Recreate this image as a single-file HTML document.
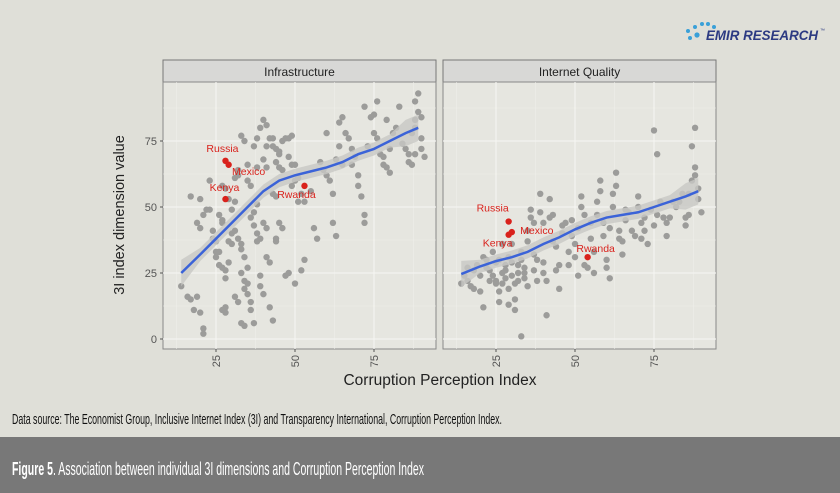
<!DOCTYPE html>
<html><head><meta charset="utf-8"><style>
body{margin:0;background:#dfdfd8;}
svg{display:block;font-family:"Liberation Sans",sans-serif;}
</style></head><body>
<svg id="chart" width="840" height="493" viewBox="0 0 840 493" xmlns="http://www.w3.org/2000/svg">
<rect x="0" y="0" width="840" height="493" fill="#dfdfd8"/>
<g>
<circle cx="690" cy="38" r="2" fill="#3aa0d8"/><circle cx="688" cy="31" r="2" fill="#3aa0d8"/><circle cx="697" cy="35" r="2.6" fill="#3aa0d8"/><circle cx="695" cy="27" r="2" fill="#3aa0d8"/><circle cx="702" cy="24" r="2" fill="#3aa0d8"/><circle cx="708" cy="24" r="2" fill="#3aa0d8"/><circle cx="714" cy="27" r="2" fill="#3aa0d8"/>
<text x="706" y="40" font-size="14" font-weight="bold" font-style="italic" fill="#2c3a82" textLength="112" lengthAdjust="spacingAndGlyphs">EMIR RESEARCH</text>
<text x="820" y="32" font-size="5" fill="#2c3a82">™</text>
</g>
<g id="panels"></g>
<text transform="translate(124,215) rotate(-90)" text-anchor="middle" font-size="14.5" fill="#222">3I index dimension value</text>
<text x="440" y="385" text-anchor="middle" font-size="15.5" fill="#222">Corruption Perception Index</text>
<text x="12" y="424" font-size="15" fill="#111" textLength="490" lengthAdjust="spacingAndGlyphs">Data source: The Economist Group, Inclusive Internet Index (3I) and Transparency International, Corruption Perception Index.</text>
<rect x="0" y="437" width="840" height="56" fill="#787878"/>
<text x="12" y="475" font-size="18" fill="#fff" textLength="412" lengthAdjust="spacingAndGlyphs"><tspan font-weight="bold">Figure 5</tspan>. Association between individual 3I dimensions and Corruption Perception Index</text>
</svg>
<script>
const panelTitles = ["Infrastructure","Internet Quality"];
const xTicks = [25,50,75];
const yTicks = [0,25,50,75];
const infraPoints = [[14,20],[16,16],[17,15],[18,11],[19,16],[20,10],[21,4],[21,2],[17,54],[20,53],[19,44],[20,42],[21,47],[22,49],[23,60],[23,49],[24,38],[24,41],[25,37],[25,33],[26,33],[26,28],[25,31],[26,47],[27,45],[27,44],[27,58],[28,57],[27,27],[28,26],[28,23],[29,29],[28,12],[27,11],[28,10],[29,37],[30,40],[30,36],[29,53],[30,49],[31,52],[31,61],[32,62],[32,64],[31,41],[32,38],[33,36],[33,34],[33,25],[34,22],[34,19],[35,17],[35,21],[35,27],[34,31],[32,14],[31,16],[33,6],[34,5],[36,14],[36,11],[37,6],[36,46],[37,43],[37,48],[38,51],[38,40],[38,37],[39,38],[39,24],[39,20],[40,17],[40,44],[41,42],[41,31],[42,29],[42,12],[43,7],[43,55],[44,54],[43,73],[44,72],[45,71],[45,65],[46,64],[44,67],[41,73],[42,76],[43,76],[45,70],[46,75],[47,76],[48,76],[49,77],[48,69],[49,66],[50,66],[49,58],[50,60],[51,61],[51,52],[52,55],[53,52],[52,26],[53,30],[50,21],[48,25],[47,24],[46,42],[45,44],[44,38],[44,37],[37,73],[38,76],[39,80],[40,83],[41,81],[40,68],[41,65],[38,65],[36,58],[35,60],[35,66],[34,75],[33,77],[55,56],[56,42],[57,38],[58,67],[59,64],[60,78],[60,62],[61,60],[62,55],[62,44],[63,39],[63,68],[64,73],[65,66],[64,82],[65,84],[66,78],[67,76],[68,72],[68,66],[69,69],[70,62],[70,58],[71,54],[72,47],[72,44],[73,73],[74,84],[75,85],[75,78],[76,76],[77,70],[78,69],[78,66],[79,65],[80,63],[80,72],[81,78],[82,80],[83,88],[84,74],[85,72],[86,70],[86,67],[87,66],[88,70],[87,78],[88,80],[88,83],[89,86],[88,90],[89,93],[90,84],[90,76],[90,72],[91,69],[76,90],[72,88],[79,83]];
const infraLine = [[14,25],[20,32],[25,38],[30,44],[35,50],[40,56],[45,60],[50,62],[55,63.5],[60,65],[65,67],[70,70],[75,72],[80,75],[85,78],[89,80]];
const qualPoints = [[14,21],[15,24],[16,22],[16,27],[17,20],[18,19],[18,26],[19,28],[20,24],[20,18],[21,12],[21,31],[22,30],[22,27],[23,26],[23,22],[24,24],[24,33],[25,29],[25,22],[25,21],[26,14],[26,18],[26,30],[27,36],[27,25],[27,21],[28,28],[28,26],[28,23],[29,19],[29,13],[29,31],[30,24],[30,29],[30,36],[31,21],[31,11],[31,15],[32,28],[32,25],[32,22],[33,1],[33,30],[33,33],[34,27],[34,25],[34,23],[35,20],[35,37],[35,41],[36,49],[36,46],[37,44],[37,32],[37,26],[38,30],[38,22],[39,55],[39,48],[40,44],[40,29],[40,25],[41,9],[41,22],[42,53],[42,46],[43,47],[43,37],[44,35],[44,26],[45,28],[45,19],[46,40],[46,43],[47,44],[48,33],[48,28],[49,39],[49,45],[50,36],[50,31],[51,24],[51,42],[52,54],[52,50],[53,47],[53,28],[54,27],[55,44],[55,38],[56,33],[56,25],[57,47],[57,52],[58,56],[58,60],[59,44],[59,39],[60,30],[60,27],[61,23],[61,42],[62,50],[62,55],[63,63],[63,58],[64,41],[64,38],[65,37],[65,32],[66,45],[66,49],[67,48],[68,41],[69,39],[70,54],[70,50],[71,44],[71,38],[72,46],[72,41],[73,36],[74,49],[75,43],[75,79],[76,70],[76,47],[77,52],[78,46],[79,44],[79,39],[80,46],[81,52],[82,50],[83,52],[84,55],[85,46],[85,43],[86,47],[86,55],[87,60],[87,73],[88,80],[88,65],[88,62],[89,57],[89,53],[90,48]];
const qualLine = [[14,24.6],[20,27.5],[25,29.5],[30,31],[35,33],[40,36],[45,38.5],[50,41.5],[55,44],[60,46],[65,47],[70,48],[75,50],[80,52],[85,54],[89,56]];
const infraLabels = [["Russia",28,67.5],["Mexico",29,66],["Kenya",28,53],["Rwanda",53,58]];
const qualLabels = [["Russia",29,44.5],["Mexico",30,40.5],["Kenya",29,39.5],["Rwanda",54,31]];
const labelOffsetsByPanel = [
  {Russia:[-3,-9],Mexico:[20,10],Kenya:[-1,-8],Rwanda:[-8,12]},
  {Russia:[-16,-10],Mexico:[25,2],Kenya:[-11,12],Rwanda:[8,-5]}
];

const NS="http://www.w3.org/2000/svg";
const panelsG=document.getElementById('panels');
function mk(tag,attrs,parent){const e=document.createElementNS(NS,tag);for(const k in attrs)e.setAttribute(k,attrs[k]);parent.appendChild(e);return e;}
const plotTop=82,plotBottom=349,pw=273;
function yScale(v){return 339-v*2.64;}
const panels=[[163,infraPoints,infraLine,infraLabels],[443,qualPoints,qualLine,qualLabels]];
panels.forEach((p,i)=>{
  const left=p[0];
  const xScale=v=>left-26+v*3.16;
  const g=mk('g',{},panelsG);
  
  
  const strip=mk('rect',{x:left,y:60,width:pw,height:22,fill:'#d8d8d6',stroke:'#777','stroke-width':1},g);
  
  
  const st=mk('text',{x:left+pw/2,y:76,'text-anchor':'middle','font-size':12,fill:'#222'},g);
  st.textContent=panelTitles[i];
  
  
  const bg=mk('rect',{x:left,y:plotTop,width:pw,height:plotBottom-plotTop,fill:'#e6e6e0',stroke:'#888','stroke-width':1},g);
  
  
  [12.5,37.5,62.5,87.5].forEach(v=>{const x=xScale(v);if(x>left&&x<left+pw)mk('line',{x1:x,x2:x,y1:plotTop,y2:plotBottom,stroke:'#efefea','stroke-width':0.6},g);});
  [12.5,37.5,62.5,87.5].forEach(v=>mk('line',{x1:left,x2:left+pw,y1:yScale(v),y2:yScale(v),stroke:'#efefea','stroke-width':0.6},g));
  xTicks.forEach(v=>{const x=xScale(v);mk('line',{x1:x,x2:x,y1:plotTop,y2:plotBottom,stroke:'#f4f4f0','stroke-width':1.2},g);
    mk('line',{x1:x,x2:x,y1:plotBottom,y2:plotBottom+3,stroke:'#555'},g);
    const t=mk('text',{transform:`translate(${x+4},${plotBottom+6}) rotate(-90)`,'text-anchor':'end','font-size':11,fill:'#555'},g);t.textContent=v;
    
    });
  yTicks.forEach(v=>{const y=yScale(v);mk('line',{x1:left,x2:left+pw,y1:y,y2:y,stroke:'#f4f4f0','stroke-width':1.2},g);
    if(i===0){mk('line',{x1:left-3,x2:left,y1:y,y2:y,stroke:'#555'},g);
    const t=mk('text',{x:left-6,y:y+4,'text-anchor':'end','font-size':11,fill:'#555'},g);t.textContent=v;
    
    }});
  p[1].forEach(d=>{const c=mk('circle',{cx:xScale(d[0]),cy:yScale(d[1]),r:3.2,fill:'#9c9c9a'},g);
    
    });
  const line=p[2];
  const up=line.map(d=>[xScale(d[0]),yScale(d[1]+(d[0]<20||d[0]>82?5:2.5))]);
  const dn=line.map(d=>[xScale(d[0]),yScale(d[1]-(d[0]<20||d[0]>82?5:2.5))]).reverse();
  const band=mk('path',{d:'M'+up.concat(dn).map(q=>q.join(',')).join('L')+'Z',fill:'#c8c8c4',opacity:0.8},g);
  
  
  const pl=mk('polyline',{points:line.map(d=>xScale(d[0])+','+yScale(d[1])).join(' '),fill:'none',stroke:'#3b63d8','stroke-width':2.5},g);
  
  
  p[3].forEach(l=>{const x=xScale(l[1]),y=yScale(l[2]);
    const c=mk('circle',{cx:x,cy:y,r:3.2,fill:'#d9221c'},g);
    
    
    const o=labelOffsetsByPanel[i][l[0]];
    const t=mk('text',{x:x+o[0],y:y+o[1],'text-anchor':'middle','font-size':10.5,fill:'#d9221c'},g);t.textContent=l[0];
    
    });
});
</script>
</body></html>
